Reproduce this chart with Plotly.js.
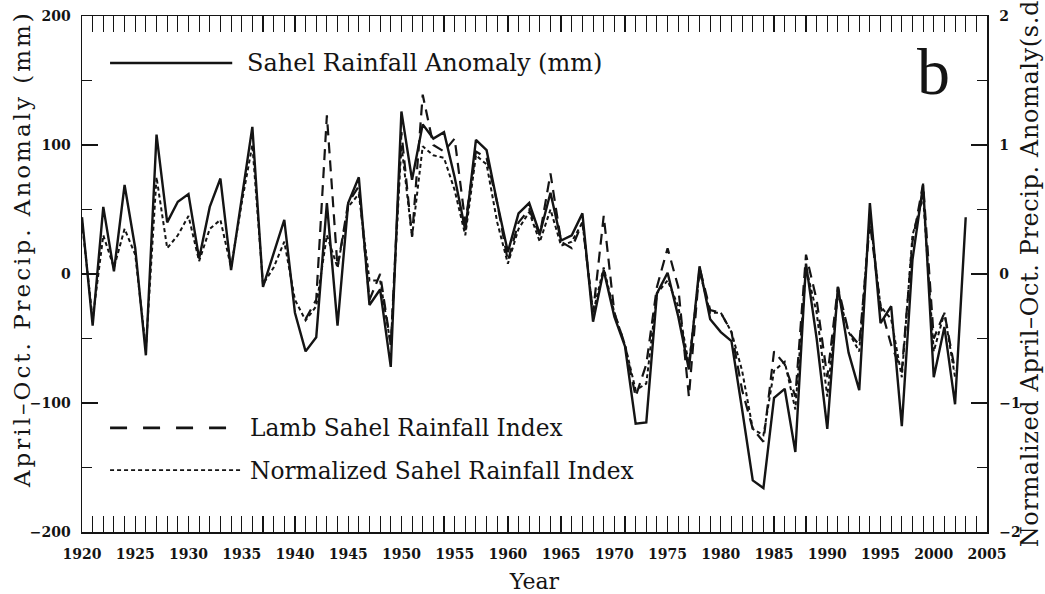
<!DOCTYPE html>
<html>
<head>
<meta charset="utf-8">
<script src="https://cdn.plot.ly/plotly-3.0.1.min.js"></script>
<style>html,body{margin:0;padding:0;background:#fff;}#chart{width:1045px;height:594px;}</style>
</head>
<body>
<div id="chart"></div>
<script>
// ---- data ----
const years = [];
for (let y = 1920; y <= 2003; y++) years.push(y);

// Sahel rainfall anomaly (mm), 1920-2003
const sahelMm = [
  44, -40, 52, 2, 69, 20, -63, 108, 40, 56,
  62, 12, 52, 74, 3, 60, 114, -10, 16, 42,
  -30, -60, -49, 55, -40, 55, 75, -24, -12, -72,
  126, 73, 116, 105, 110, 75, 34, 104, 96, 55,
  17, 47, 55, 31, 63, 26, 30, 47, -37, 3,
  -33, -56, -116, -115, -15, 1, -33, -74, 6, -35,
  -45, -52, -105, -160, -166, -96, -89, -138, 8, -50,
  -120, -10, -61, -90, 55, -38, -25, -118, 11, 69,
  -80, -41, -101, 44
];

// Lamb Sahel Rainfall Index (s.d.), 1920-2003 (starts 1941)
const lambIdx = [
  null, null, null, null, null, null, null, null, null, null,
  null, null, null, null, null, null, null, null, null, null,
  null, -0.35, -0.20, 1.23, 0.05, 0.55, 0.68, -0.20, 0.00, -0.55,
  1.10, 0.29, 1.39, 1.00, 0.95, 1.05, 0.40, 0.95, 0.90, 0.55,
  0.10, 0.40, 0.50, 0.30, 0.78, 0.25, 0.20, 0.40, -0.30, 0.45,
  -0.30, -0.55, -0.95, -0.70, -0.10, 0.20, -0.10, -0.95, 0.05, -0.28,
  -0.30, -0.45, -0.90, -1.20, -1.30, -0.60, -0.70, -0.95, 0.15, -0.20,
  -0.80, -0.10, -0.45, -0.55, 0.40, -0.25, -0.55, -0.75, 0.25, 0.70,
  -0.50, -0.30, -0.75, null
];

// Normalized Sahel Rainfall Index (s.d.), 1920-2003
const normIdx = [
  0.40, -0.35, 0.30, 0.05, 0.35, 0.15, -0.58, 0.75, 0.20, 0.30,
  0.45, 0.10, 0.35, 0.42, 0.05, 0.55, 1.00, -0.08, 0.05, 0.25,
  -0.20, -0.36, -0.25, 0.30, 0.05, 0.52, 0.62, -0.05, -0.05, -0.55,
  1.00, 0.29, 0.99, 0.92, 0.90, 0.65, 0.30, 0.92, 0.85, 0.40,
  0.08, 0.35, 0.48, 0.25, 0.50, 0.22, 0.25, 0.40, -0.30, 0.05,
  -0.30, -0.55, -0.90, -0.85, -0.15, -0.05, -0.25, -0.70, 0.02, -0.30,
  -0.30, -0.45, -0.75, -1.20, -1.25, -0.75, -0.68, -1.05, 0.05, -0.30,
  -0.95, -0.15, -0.45, -0.60, 0.45, -0.25, -0.35, -0.80, 0.30, 0.60,
  -0.60, -0.30, -0.80, null
];

const xTickVals = [1920, 1925, 1930, 1935, 1940, 1945, 1950, 1955, 1960, 1965, 1970, 1975, 1980, 1985, 1990, 1995, 2000, 2005];
const yTickVals = [-200, -100, 0, 100, 200];
const y2TickVals = [-2, -1, 0, 1, 2];

const seriesNames = ["Sahel Rainfall Anomaly (mm)", "Lamb Sahel Rainfall Index", "Normalized Sahel Rainfall Index"];
const xTitle = "Year";
const yTitle = "April\u2013Oct. Precip. Anomaly (mm)";
const y2Title = "Normalized April\u2013Oct. Precip. Anomaly(s.d";
const panelLabel = "b";

// ---- chart ----
const ink = "#141414";
const serif = "DejaVu Serif, Liberation Serif, serif";

const traces = [
  {x: years, y: sahelMm, type: "scatter", mode: "lines", name: seriesNames[0],
   line: {color: ink, width: 2.4}, yaxis: "y"},
  {x: years, y: lambIdx, type: "scatter", mode: "lines", name: seriesNames[1],
   line: {color: ink, width: 2.2, dash: "11px,7px"}, yaxis: "y2", connectgaps: false},
  {x: years, y: normIdx, type: "scatter", mode: "lines", name: seriesNames[2],
   line: {color: ink, width: 2.0, dash: "4px,3px"}, yaxis: "y2", connectgaps: false}
];

const tickFont = {family: serif, size: 14, color: ink, weight: "bold"};
const axisCommon = {
  showgrid: false, zeroline: false, showline: true, linecolor: ink, linewidth: 1.5,
  ticks: "inside", tickcolor: ink, tickwidth: 1.3, tickfont: tickFont
};

const layout = {
  width: 1045, height: 594,
  margin: {l: 82, r: 58, t: 16, b: 62},
  paper_bgcolor: "#fff", plot_bgcolor: "#fff",
  showlegend: false,
  xaxis: Object.assign({}, axisCommon, {
    range: [1920, 2005], tickvals: xTickVals, ticklen: 16, mirror: "allticks",
    minor: {dtick: 1, tick0: 1920, ticks: "inside", ticklen: 10, tickcolor: ink, tickwidth: 1.1, showgrid: false},
    title: {text: xTitle, font: {family: serif, size: 22, color: ink}, standoff: 12},
    ticklabelstandoff: 9
  }),
  yaxis: Object.assign({}, axisCommon, {
    range: [-200, 200], tickvals: yTickVals, ticklen: 16,
    minor: {dtick: 50, tick0: 0, ticks: "inside", ticklen: 10, tickcolor: ink, tickwidth: 1.1, showgrid: false},
    ticklabelstandoff: 7
  }),
  yaxis2: Object.assign({}, axisCommon, {
    overlaying: "y", side: "right", range: [-2, 2], tickvals: y2TickVals, ticklen: 16,
    minor: {dtick: 0.5, tick0: 0, ticks: "inside", ticklen: 10, tickcolor: ink, tickwidth: 1.1, showgrid: false},
    ticklabelstandoff: 8
  }),
  shapes: [
    {type: "line", xref: "paper", yref: "paper", x0: 0.031, x1: 0.166, y0: 0.909, y1: 0.909, line: {color: ink, width: 2.4}},
    {type: "line", xref: "paper", yref: "paper", x0: 0.031, x1: 0.161, y0: 0.2016, y1: 0.2016, line: {color: ink, width: 2.8, dash: "17px,16px"}},
    {type: "line", xref: "paper", yref: "paper", x0: 0.031, x1: 0.175, y0: 0.120, y1: 0.120, line: {color: ink, width: 1.6, dash: "4px,3px"}}
  ],
  annotations: [
    {xref: "paper", yref: "paper", x: 0.180, y: 0.909, xanchor: "left", yanchor: "middle", showarrow: false,
     text: seriesNames[0], font: {family: serif, size: 24, color: ink}},
    {xref: "paper", yref: "paper", x: 0.183, y: 0.2016, xanchor: "left", yanchor: "middle", showarrow: false,
     text: seriesNames[1], font: {family: serif, size: 23.3, color: ink}},
    {xref: "paper", yref: "paper", x: 0.183, y: 0.120, xanchor: "left", yanchor: "middle", showarrow: false,
     text: seriesNames[2], font: {family: serif, size: 23.3, color: ink}},
    {xref: "paper", yref: "paper", x: 0.9414, y: 0.893, xanchor: "center", yanchor: "middle", showarrow: false,
     text: panelLabel, font: {family: "Liberation Serif, serif", size: 66, color: ink}},
    {xref: "paper", yref: "paper", x: -0.066, y: 0.548, xanchor: "center", yanchor: "middle", textangle: -90, showarrow: false,
     text: yTitle, font: {family: serif, size: 23, color: ink}},
    {xref: "paper", yref: "paper", x: 1.0475, y: 0.502, xanchor: "center", yanchor: "middle", textangle: -90, showarrow: false,
     text: y2Title, font: {family: serif, size: 24, color: ink}}
  ]
};

Plotly.newPlot("chart", traces, layout, {staticPlot: true, displayModeBar: false}).then(function (gd) {
  const texts = gd.querySelectorAll(".annotation-text");
  if (texts[4]) texts[4].style.letterSpacing = "3px";
  if (texts[5]) texts[5].style.letterSpacing = "0.6px";
});
</script>
</body>
</html>
